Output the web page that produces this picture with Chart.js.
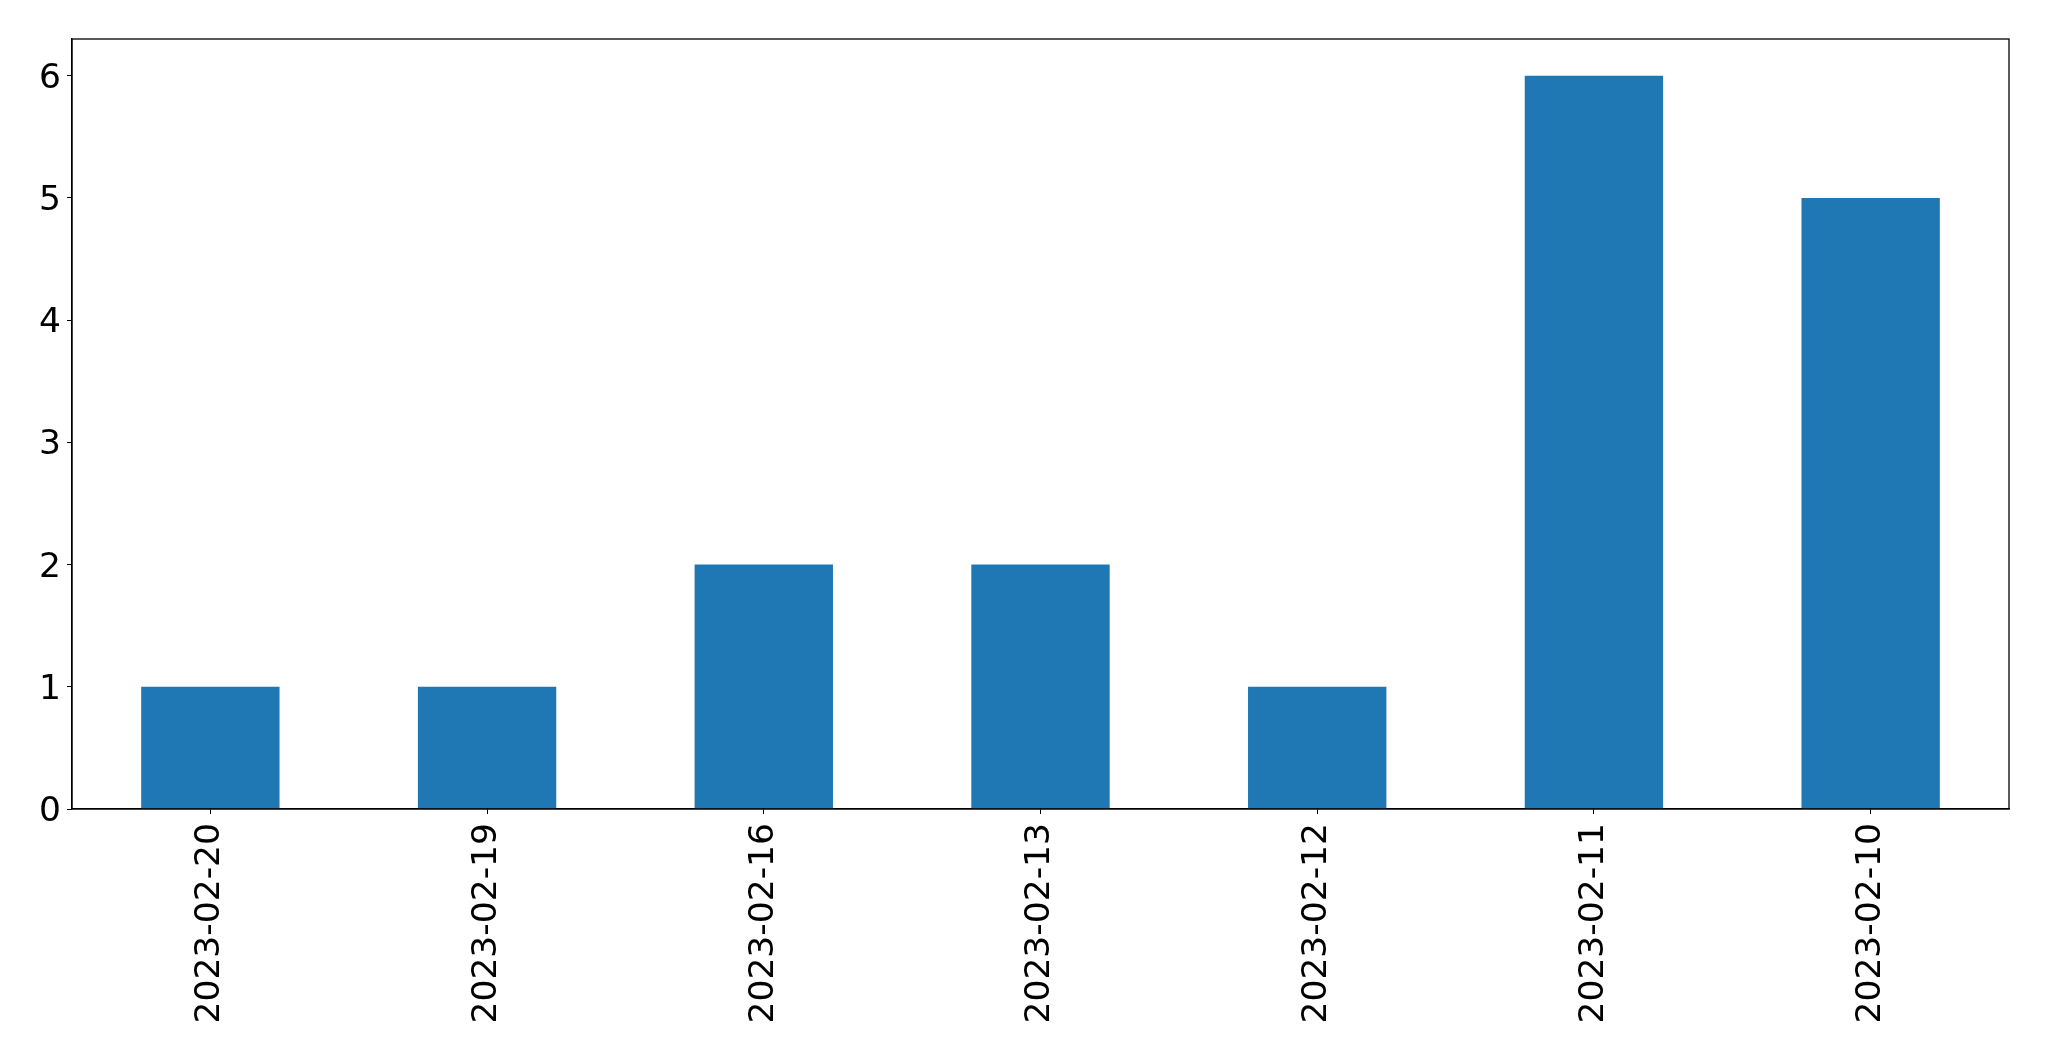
<!DOCTYPE html>
<html>
<head>
<meta charset="utf-8">
<script src="https://cdn.jsdelivr.net/npm/chart.js@4/dist/chart.umd.min.js"></script>
<style>
  html, body { margin: 0; padding: 0; background: #fff; }
  #wrap { width: 2049px; height: 1061px; }
</style>
</head>
<body>
<div id="wrap"><canvas id="chart" width="2049" height="1061"></canvas></div>
<script>
// Dados do gráfico
const dateLabels = ["2023-02-20", "2023-02-19", "2023-02-16", "2023-02-13", "2023-02-12", "2023-02-11", "2023-02-10"];
const counts = [1, 1, 2, 2, 1, 6, 5];
const yMax = 6.3;

const BAR_BLUE = "#1f77b4";
const FONT = { family: "DejaVu Sans", size: 34.5 };

/** Moldura em volta da área do gráfico */
const frameBox = {
  id: "frameBox",
  afterDraw(chart) {
    const { ctx, chartArea: a } = chart;
    ctx.save();
    ctx.strokeStyle = "#000";
    ctx.lineWidth = 1.3;
    ctx.strokeRect(a.left, a.top, a.right - a.left, a.bottom - a.top);
    ctx.restore();
  }
};

new Chart(document.getElementById("chart"), {
  type: "bar",
  data: {
    labels: dateLabels,
    datasets: [{
      data: counts,
      backgroundColor: BAR_BLUE,
      borderWidth: 0,
      barPercentage: 0.5,
      categoryPercentage: 1
    }]
  },
  options: {
    responsive: false,
    animation: false,
    layout: { padding: { left: 0, top: 39, right: 40, bottom: 0 } },
    plugins: { legend: { display: false }, tooltip: { enabled: false } },
    scales: {
      x: {
        offset: true,
        grid: { display: true, offset: false, drawOnChartArea: false, drawTicks: true, tickLength: 5, color: "#000" },
        border: { display: true, color: "#000", width: 1.3 },
        ticks: { color: "#000", font: FONT, maxRotation: 90, minRotation: 90, padding: 9, autoSkip: false },
        afterFit: (scale) => { scale.height = 252; }
      },
      y: {
        min: 0,
        max: yMax,
        grid: { display: true, drawOnChartArea: false, drawTicks: true, tickLength: 5, color: "#000" },
        border: { display: true, color: "#000", width: 1.3 },
        ticks: { color: "#000", font: FONT, stepSize: 1, padding: 6, includeBounds: false, labelOffset: 3 },
        afterBuildTicks: (scale) => {
          scale.ticks = scale.ticks.filter((t) => Number.isInteger(t.value));
        },
        afterFit: (scale) => { scale.width = 72; }
      }
    }
  },
  plugins: [frameBox]
});
</script>
</body>
</html>
